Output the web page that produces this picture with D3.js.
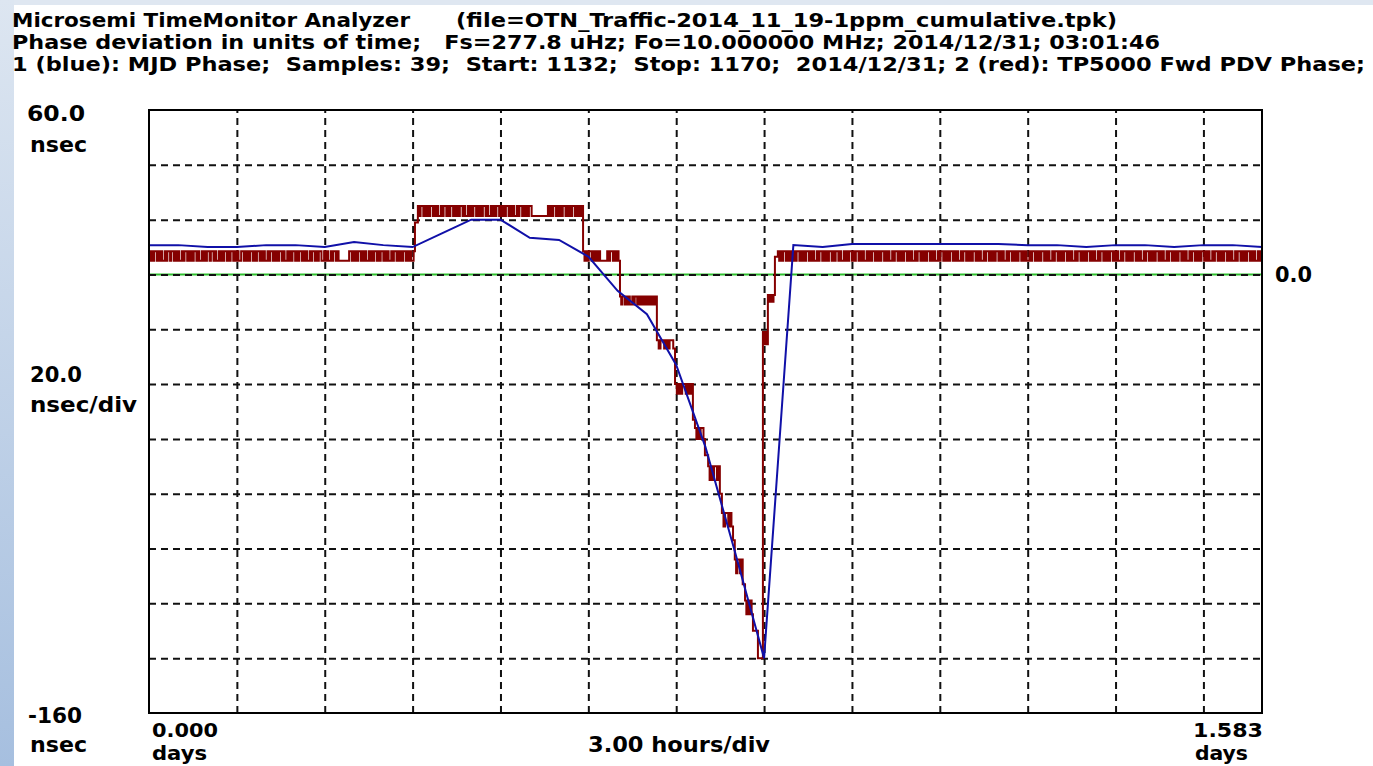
<!DOCTYPE html>
<html>
<head>
<meta charset="utf-8">
<script src="https://cdn.jsdelivr.net/npm/d3@7"></script>
<style>
  body { margin: 0; background: #fff; }
  text { font-family: "Liberation Sans Narrow", "DejaVu Sans Condensed", "Arial Narrow", sans-serif; font-weight: bold; fill: #000; }
</style>
</head>
<body>
<div id="chart"></div>
<script>
// Blue trace: MJD Phase, one sample per hour (nsec)
let blueValues = [10.7, 10.7, 10.0, 10.0, 10.7, 10.7, 10.0, 11.8, 10.7, 10.0,
  15.0, 20.0, 20.0, 13.4, 12.6, 6.5, -6.0, -14.5, -33.0, -63.0,
  -101.0, -140.0, 10.7, 10.0, 11.1, 11.1, 11.1, 11.1, 11.1, 11.1,
  10.7, 10.7, 10.0, 10.7, 10.7, 10.0, 10.7, 10.7, 10.0];

// Red trace: TP5000 Fwd PDV Phase, read as runs [startHour, endHour, low, high, toggles]
let redSegments = [
  [0.00, 9.08, 5, 8.5,
    '1010110101001011011010100101101010110100101011011010010101101011010100110101011010110101001011010101101001010110101101010010110101100101001011010000000011010101101010010101101011010100101101010110101001'],
  [9.08, 9.18, 19, 19, '0'],
  [9.18, 13.11, 21.3, 25,
    '1011010101101010010110101101010110100101011010101101001010110101011010100101101010110'],
  [13.11, 13.62, 21.3, 21.3, '0'],
  [13.62, 14.82, 21.3, 25, '10101101010110101011010101'],
  [14.82, 16.08, 5, 8.5, '10101101010100000101101010'],
  [16.08, 17.34, -11, -8, '101101010010110101010101010101'],
  [17.34, 17.96, -27, -24, '1011010110'],
  [17.96, 18.57, -43.5, -40, '1010110101'],
  [18.57, 18.64, -53, -53, '0'],
  [18.64, 18.98, -60, -56, '1010110'],
  [18.98, 19.09, -66, -66, '0'],
  [19.09, 19.49, -75, -70, '10101101'],
  [19.49, 19.56, -80, -80, '0'],
  [19.56, 19.94, -92, -87, '1011010'],
  [19.94, 20.00, -97, -97, '0'],
  [20.00, 20.27, -109, -104, '101101'],
  [20.27, 20.35, -113, -113, '0'],
  [20.35, 20.62, -124, -119, '101010'],
  [20.62, 20.79, -130, -130, '0'],
  [20.79, 20.96, -140, -140, '0'],
  [20.96, 21.13, -25.5, -21, '1010'],
  [21.13, 21.37, -10, -7.5, '10101'],
  [21.37, 21.47, 6.5, 6.5, '0'],
  [21.47, 38.00, 5, 8.5,
    '1010110101001011010101101010010110101011' +
    '0101101001010110101101010010101101010110' +
    '1010010110101011010100101101010110101001' +
    '0110101011010100101101010110101001011010' +
    '1011010100101101010110101001011010101101' +
    '0100101101010110101001011010101101010010' +
    '1101010110101001011010101101010010110101' +
    '0110101001011010101101010010110101011010' +
    '1001011010101101010010110101011010100101']
];

// Axis ranges and grid
let xDomain = [0, 38];      // hours
let yDomain = [-160, 60];   // nsec
let xGrid = [3, 6, 9, 12, 15, 18, 21, 24, 27, 30, 33, 36];
let yGrid = [-140, -120, -100, -80, -60, -40, -20, 0, 20, 40];

// Header lines
let headerLines = [
  ['Microsemi TimeMonitor Analyzer', 12, 27, 398],
  ['(file=OTN_Traffic-2014_11_19-1ppm_cumulative.tpk)', 456, 27, 661],
  ['Phase deviation in units of time;   Fs=277.8 uHz; Fo=10.000000 MHz; 2014/12/31; 03:01:46', 12, 49, 1148],
  ['1 (blue): MJD Phase;  Samples: 39;  Start: 1132;  Stop: 1170;  2014/12/31; 2 (red): TP5000 Fwd PDV Phase;', 12, 71, 1353]
];

// Axis labels
let axisLabels = [
  ['60.0', 27, 121, 58],
  ['nsec', 30, 152, 57],
  ['20.0', 30, 382, 52],
  ['nsec/div', 30, 412, 107],
  ['-160', 28, 723, 54],
  ['nsec', 30, 752, 57],
  ['0.000', 152, 737, 66],
  ['days', 152, 760, 55],
  ['3.00 hours/div', 588, 752, 182],
  ['1.583', 1193, 737, 70],
  ['days', 1195, 760, 53],
  ['0.0', 1275, 282, 37]
];

let svgWidth = 1373;
let svgHeight = 766;
let margin = { top: 110, left: 149 };
let width = 1113;
let height = 603;

let svg = d3.select('#chart').append('svg')
  .attr('width', svgWidth)
  .attr('height', svgHeight);

// window frame edges
let defs = svg.append('defs');
let grad = defs.append('linearGradient')
  .attr('id', 'edge')
  .attr('x1', 0).attr('y1', 0).attr('x2', 0).attr('y2', 1);
grad.append('stop').attr('offset', '0%').attr('stop-color', '#dde6f1');
grad.append('stop').attr('offset', '100%').attr('stop-color', '#a6bfdf');

svg.append('rect').attr('x', 0).attr('y', 0).attr('width', svgWidth).attr('height', 5).attr('fill', '#dfe7f1');
svg.append('rect').attr('x', 0).attr('y', 0).attr('width', 14).attr('height', svgHeight).attr('fill', 'url(#edge)');

let x = d3.scaleLinear().domain(xDomain).range([margin.left, margin.left + width]);
let y = d3.scaleLinear().domain(yDomain).range([margin.top + height, margin.top]);

// zero line
svg.append('line')
  .attr('x1', x(0)).attr('x2', x(38))
  .attr('y1', y(0)).attr('y2', y(0))
  .attr('stroke', '#2fbf2f')
  .attr('stroke-width', 2);

// dashed grid
let gridX = svg.append('g')
  .attr('transform', `translate(0, ${margin.top + height})`)
  .call(d3.axisBottom(x).tickValues(xGrid).tickSize(-height).tickFormat(''));
let gridY = svg.append('g')
  .attr('transform', `translate(${margin.left}, 0)`)
  .call(d3.axisLeft(y).tickValues(yGrid).tickSize(-width).tickFormat(''));

[gridX, gridY].forEach(g => {
  g.select('.domain').remove();
  g.selectAll('line')
    .attr('stroke', '#111')
    .attr('stroke-width', 2)
    .attr('stroke-dasharray', '7,5');
});

// red trace
let redPoints = [];
redSegments.forEach(s => {
  let n = s[4].length;
  for (let i = 0; i < n; i++) {
    redPoints.push([s[0] + (s[1] - s[0]) * i / n, s[4][i] === '1' ? s[3] : s[2]]);
  }
});
redPoints.push([38, redPoints[redPoints.length - 1][1]]);

let redLine = d3.line()
  .x(d => x(d[0]))
  .y(d => y(d[1]))
  .curve(d3.curveStepAfter);

svg.append('path')
  .datum(redPoints)
  .attr('d', redLine)
  .attr('fill', 'none')
  .attr('stroke', '#850000')
  .attr('stroke-width', 2);

// blue trace
let blueLine = d3.line()
  .x((d, i) => x(i))
  .y(d => y(d));

svg.append('path')
  .datum(blueValues)
  .attr('d', blueLine)
  .attr('fill', 'none')
  .attr('stroke', '#1010a8')
  .attr('stroke-width', 2);

// plot border
svg.append('rect')
  .attr('x', margin.left).attr('y', margin.top)
  .attr('width', width).attr('height', height)
  .attr('fill', 'none')
  .attr('stroke', '#000')
  .attr('stroke-width', 2);

// texts
svg.selectAll('.header')
  .data(headerLines)
  .enter()
  .append('text')
  .classed('header', true)
  .attr('x', d => d[1])
  .attr('y', d => d[2])
  .attr('textLength', d => d[3])
  .attr('lengthAdjust', 'spacingAndGlyphs')
  .attr('xml:space', 'preserve')
  .style('font-size', '19px')
  .text(d => d[0]);

svg.selectAll('.axisLabel')
  .data(axisLabels)
  .enter()
  .append('text')
  .classed('axisLabel', true)
  .attr('x', d => d[1])
  .attr('y', d => d[2])
  .attr('textLength', d => d[3])
  .attr('lengthAdjust', 'spacingAndGlyphs')
  .style('font-size', d => d[0] === 'days' || d[0] === '0.000' || d[0] === '1.583' ? '19px' : '21px')
  .text(d => d[0]);
</script>
</body>
</html>
